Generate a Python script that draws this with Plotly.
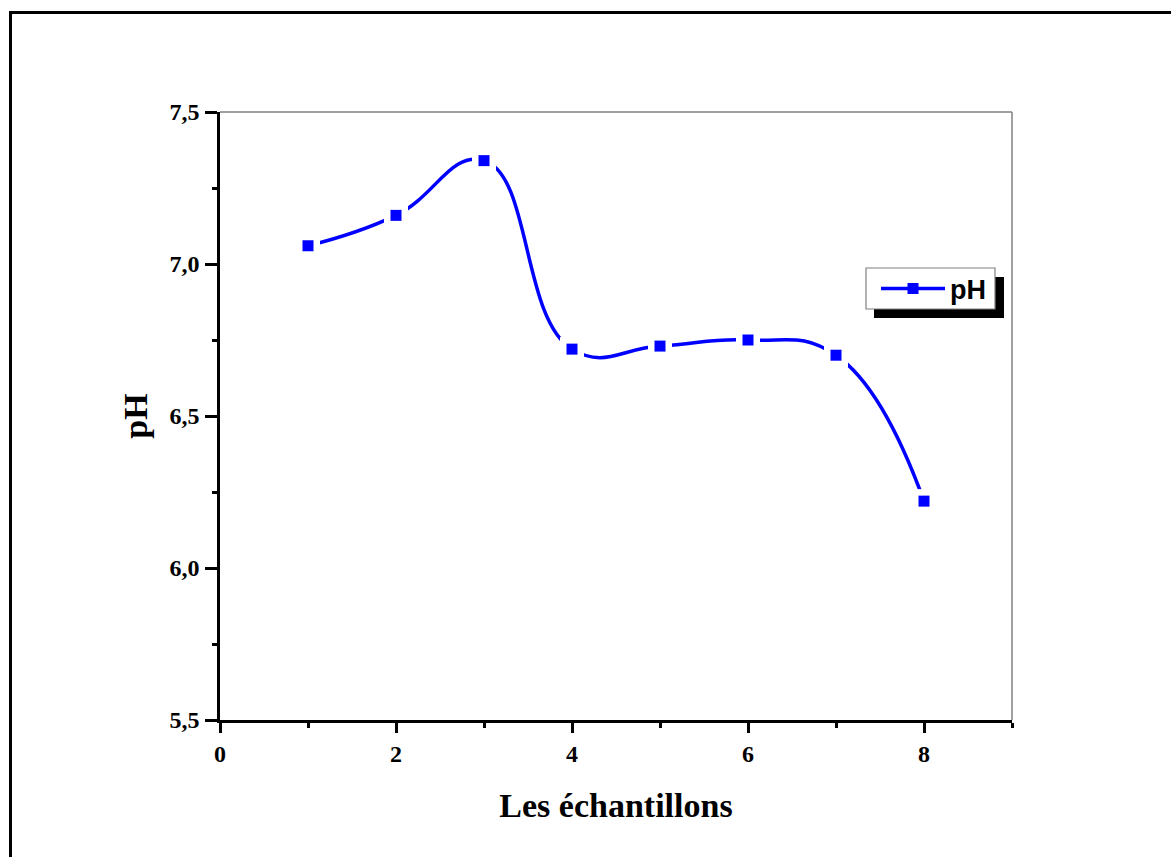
import plotly.graph_objects as go

# Data
samples = [1, 2, 3, 4, 5, 6, 7, 8]
ph_values = [7.06, 7.16, 7.34, 6.72, 6.73, 6.75, 6.70, 6.22]
x_ticks = [0, 2, 4, 6, 8]
y_ticks = [5.5, 6.0, 6.5, 7.0, 7.5]
series_name = "pH"
x_title = "Les échantillons"
y_title = "pH"

W, H = 1171, 857
L, R, T, B = 220, 159, 112, 137
pw, ph = W - L - R, H - T - B

def px_x(x):
    return (x - L) / pw

def px_y(y):
    return (H - B - y) / ph

BLUE = "#0000FF"
serif = "Liberation Serif, Times New Roman, serif"
sans = "Liberation Sans, Arial, sans-serif"

fig = go.Figure()
fig.add_trace(go.Scatter(
    x=samples, y=ph_values, mode="lines+markers", name=series_name,
    line=dict(color=BLUE, width=3.5, shape="spline", smoothing=1.3),
    marker=dict(symbol="square", size=11, color=BLUE),
))
# white halo to create gaps around markers
fig.add_trace(go.Scatter(
    x=samples, y=ph_values, mode="markers", showlegend=False, hoverinfo="skip",
    marker=dict(symbol="square", size=24, color="white"),
))
fig.add_trace(go.Scatter(
    x=samples, y=ph_values, mode="markers", showlegend=False,
    marker=dict(symbol="square", size=11, color=BLUE),
))

shapes = [
    # outer frame (left and top)
    dict(type="line", xref="paper", yref="paper", x0=px_x(10.5), x1=px_x(10.5),
         y0=px_y(900), y1=px_y(11), line=dict(color="black", width=3)),
    dict(type="line", xref="paper", yref="paper", x0=px_x(9), x1=px_x(1200),
         y0=px_y(12.5), y1=px_y(12.5), line=dict(color="black", width=3)),
    # top and right plot border (gray)
    dict(type="line", xref="paper", yref="paper", x0=0, x1=1, y0=1, y1=1,
         line=dict(color="#808080", width=1.5)),
    dict(type="line", xref="paper", yref="paper", x0=1, x1=1, y0=0, y1=1,
         line=dict(color="#808080", width=1.5)),
    # legend shadow and box
    dict(type="rect", xref="paper", yref="paper", x0=px_x(874), x1=px_x(1004),
         y0=px_y(318), y1=px_y(277), fillcolor="black", line=dict(width=0),
         layer="above"),
    dict(type="rect", xref="paper", yref="paper", x0=px_x(866), x1=px_x(995),
         y0=px_y(309), y1=px_y(268), fillcolor="white",
         line=dict(color="#808080", width=1.2), layer="above"),
]

fig.update_layout(
    width=W, height=H,
    margin=dict(l=L, r=R, t=T, b=B, pad=0),
    paper_bgcolor="white", plot_bgcolor="white",
    separators=", ",
    showlegend=True,
    legend=dict(
        x=px_x(876), y=px_y(289), xanchor="left", yanchor="middle",
        bgcolor="rgba(0,0,0,0)", borderwidth=0,
        font=dict(family=sans, size=27, color="black", weight="bold"),
        itemwidth=64,
    ),
    shapes=shapes,
    xaxis=dict(
        range=[0, 9], tickvals=x_ticks, ticktext=[str(v) for v in x_ticks],
        showgrid=False, zeroline=False,
        showline=True, linecolor="black", linewidth=2.5,
        ticks="outside", ticklen=10, tickwidth=2.5, tickcolor="black",
        minor=dict(dtick=1, tick0=0, ticks="outside", ticklen=5, tickwidth=2.5,
                   tickcolor="black", showgrid=False),
        tickfont=dict(family=serif, size=24, color="black", weight="bold"),
        title=dict(text=x_title, standoff=28,
                   font=dict(family=serif, size=34, color="black", weight="bold")),
    ),
    yaxis=dict(
        range=[5.5, 7.5], tickvals=y_ticks, tickformat=".1f",
        showgrid=False, zeroline=False,
        showline=True, linecolor="black", linewidth=2.5,
        ticks="outside", ticklen=12, tickwidth=2.5, tickcolor="black",
        minor=dict(dtick=0.25, tick0=5.5, ticks="outside", ticklen=5, tickwidth=2.5,
                   tickcolor="black", showgrid=False),
        tickfont=dict(family=serif, size=24, color="black", weight="bold"),
        ticklabelstandoff=1,
        title=dict(text=y_title, standoff=12,
                   font=dict(family=serif, size=34, color="black", weight="bold")),
    ),
)

fig.write_html("out.html")
